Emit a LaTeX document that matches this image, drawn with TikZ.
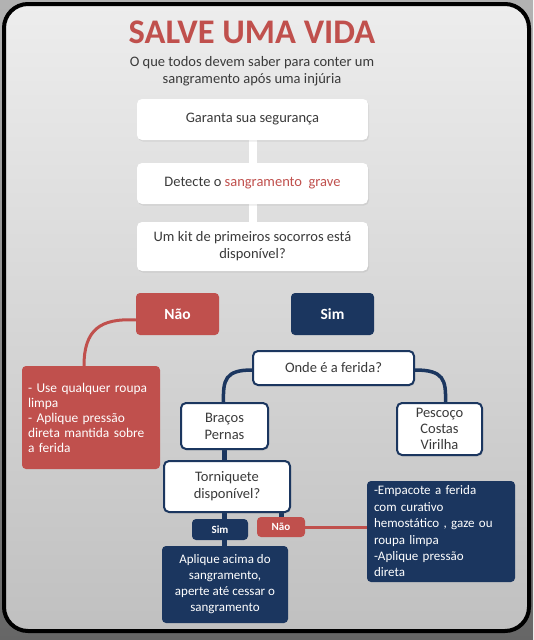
\documentclass[tikz,border=0pt]{standalone}
\usepackage{fontspec}
\setmainfont{Carlito}
\usetikzlibrary{backgrounds,calc,shadows}
\pgfdeclarelayer{bglayer}
\pgfsetlayers{bglayer,background,main}
\definecolor{cred}{HTML}{C0504D}
\definecolor{ctitle}{HTML}{C0504D}
\definecolor{cnavy}{HTML}{1B365F}
\definecolor{ctext}{HTML}{3A3A3A}
\definecolor{bgtop}{HTML}{EDEDED}
\definecolor{bgbot}{HTML}{C0C0C0}
\tikzset{
  wbox/.style={fill=white, rounded corners=5pt, text=ctext, align=center, inner sep=0pt,
    font=\fontsize{14.5}{17}\selectfont,
    drop shadow={shadow xshift=1pt, shadow yshift=-1.5pt, opacity=0.15}},
  nbox/.style={wbox, draw=cnavy, line width=2pt},
  rbox/.style={fill=cred, rounded corners=4pt, text=white, inner sep=0pt, align=center},
  dbox/.style={fill=cnavy, rounded corners=4pt, text=white, inner sep=0pt, align=center},
  wlink/.style={draw=white, line width=8pt},
  nlink/.style={draw=cnavy, line width=5pt},
  ncurve/.style={draw=cnavy, line width=3.5pt},
  rlink/.style={draw=cred, line width=3pt},
}
\begin{document}
\begin{tikzpicture}[x=1pt,y=-1pt]
\useasboundingbox (0,0) rectangle (533,640);
% background
\begin{pgfonlayer}{bglayer}
\shade[top color=gray!60, bottom color=gray!80!black] (0,0) rectangle (533,640);
\shade[top color=bgtop, bottom color=bgbot, draw=black, line width=4pt, rounded corners=24pt]
  (4,4) rectangle (529,631);
\end{pgfonlayer}

% title
\node[text=ctitle, font=\fontsize{34.5}{38}\selectfont\bfseries] (title) at (252,32) {SALVE UMA VIDA};
\node[text=ctext, align=center, font=\fontsize{14.5}{17}\selectfont] (sub) at (252,71)
  {O que todos devem saber para conter um\\sangramento após uma injúria};

% nodes
\node[wbox, minimum width=231pt, minimum height=41pt] (b1) at (252.5,119.5) {Garanta sua segurança};
\node[wbox, minimum width=231pt, minimum height=41pt] (b2) at (252.5,183.5)
  {Detecte o \textcolor{cred}{sangramento\ \ grave}};
\node[wbox, minimum width=231pt, minimum height=49pt] (b3) at (252.5,246.5)
  {Um kit de primeiros socorros está\\disponível?};
\node[rbox, minimum width=83pt, minimum height=42pt, font=\fontsize{15.5}{18}\selectfont\bfseries] (nao) at (177.5,314) {Não};
\node[dbox, minimum width=83pt, minimum height=42pt, font=\fontsize{15.5}{18}\selectfont\bfseries] (sim) at (332.5,314) {Sim};
\node[nbox, minimum width=161pt, minimum height=34pt] (onde) at (333.5,368) {Onde é a ferida?};
\node[nbox, minimum width=87pt, minimum height=46pt] (bracos) at (224.5,426) {Braços\\Pernas};
\node[nbox, minimum width=85pt, minimum height=52pt, font=\fontsize{14.5}{16}\selectfont] (pesc) at (439.5,429) {Pescoço\\Costas\\Virilha};
\node[rbox, minimum width=138pt, minimum height=103pt, text width=126pt, align=left,
  font=\fontsize{13.4}{15}\selectfont] (redtxt) at (91,417.5)
  {- Use qualquer roupa\\limpa\\- Aplique pressão\\direta mantida sobre\\a ferida};
\node[nbox, minimum width=126pt, minimum height=51pt] (torn) at (227,486.5) {Torniquete\\disponível?};
\node[dbox, minimum width=56pt, minimum height=21pt, font=\fontsize{11}{13}\selectfont\bfseries] (sims) at (220,529.5) {Sim};
\node[rbox, minimum width=48pt, minimum height=20pt, font=\fontsize{11}{13}\selectfont\bfseries] (naos) at (281,527) {Não};
\node[dbox, minimum width=148pt, minimum height=101pt, text width=134pt, align=left,
  font=\fontsize{13}{16.4}\selectfont] (rbx) at (441,531.5)
  {-Empacote a ferida\\com curativo\\hemostático , gaze ou\\roupa limpa\\-Aplique pressão\\direta};
\node[dbox, minimum width=126pt, minimum height=77pt, font=\fontsize{13}{16}\selectfont] (bbx) at (225,584.5)
  {Aplique acima do\\sangramento,\\aperte até cessar o\\sangramento};

% connectors
\begin{scope}[on background layer]
\path[wlink] (b1.south) -- (b2.north);
\path[wlink] (b2.south) -- (b3.north);
\path[wlink] ($(b3.south)+(-74,0)$) -- ($(b3.south)+(-74,0)$ |- nao.north);
\path[wlink] ($(b3.south)+(80.5,0)$) -- ($(b3.south)+(80.5,0)$ |- sim.north);
\path[nlink] ($(sim.south)+(4,0)$) -- ($(sim.south)+(4,0)$ |- onde.north);
\path[ncurve] ($(onde.west)+(0,2)$) .. controls (225,370) and (223,380) .. ($(bracos.north)+(-1,0)$);
\path[ncurve] ($(onde.east)+(0,2)$) .. controls (444,370) and (446,380) .. ($(pesc.north)+(6,0)$);
\path[rlink] ($(nao.west)+(0,6)$) .. controls (100,318) and (84,330) .. ($(redtxt.north)+(-7,0)$);
\path[nlink] (bracos.south) -- (bracos.south |- torn.north);
\path[nlink] (sims.north -| bracos.south) -- (bracos.south |- torn.south);
\path[nlink] (naos.north) -- (naos.north |- torn.south);
\path[nlink] (sims.south -| bracos.south) -- (bracos.south |- bbx.north);
\path[nlink] ($(pesc.south)+(2,0)$) -- ($(pesc.south)+(2,0)$ |- rbx.north);
\path[rlink] (naos.east) -- (naos.east -| rbx.west);
\end{scope}
\end{tikzpicture}
\end{document}
